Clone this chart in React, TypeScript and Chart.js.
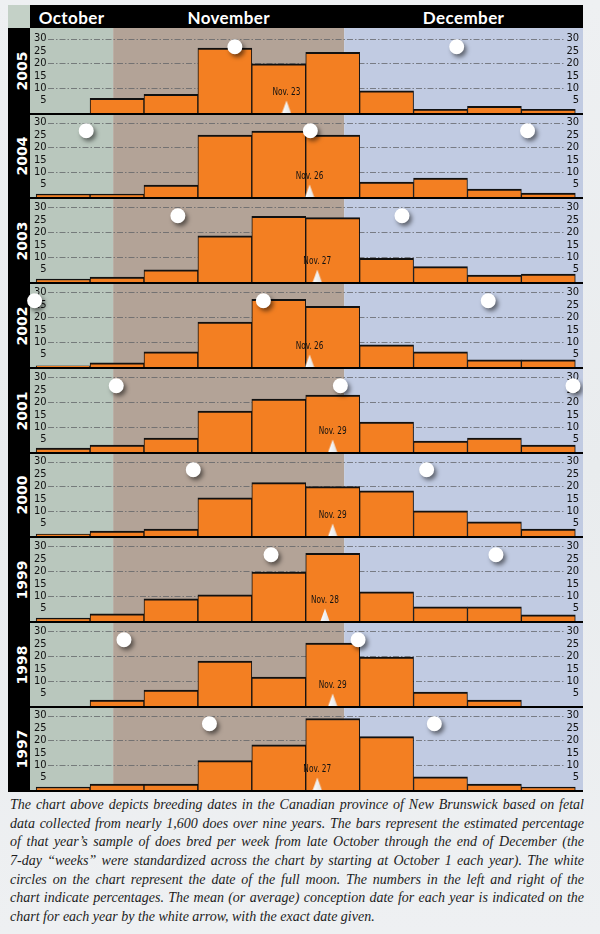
import React, { useEffect, useRef } from "react";
import { Chart, registerables } from "chart.js";

Chart.register(...registerables);

// ---------------- data ----------------
const years = ["2005", "2004", "2003", "2002", "2001", "2000", "1999", "1998", "1997"];
const months = ["October", "November", "December"];
// month boundaries, in days after October 1 (Oct 1, Nov 1, Dec 1, Jan 1)
const monthStarts = [0, 31, 61, 92];
// start of each standardized 7-day week, in days after October 1
const weekStarts = [21, 28, 35, 42, 49, 56, 63, 70, 77, 84];

// estimated % of does bred per week
const pct2005 = [null, 5.9, 7.5, 26.1, 19.8, 24.4, 8.9, 1.5, 2.7, 1.5];
const pct2004 = [1.2, 1.2, 4.8, 24.9, 26.5, 24.9, 6.0, 7.6, 3.2, 1.6];
const pct2003 = [1.2, 2.0, 4.9, 18.6, 26.4, 25.9, 9.5, 6.2, 2.8, 3.2];
const pct2002 = [0.5, 1.7, 6.1, 18.1, 27.2, 24.4, 8.9, 6.1, 2.9, 2.9];
const pct2001 = [1.6, 2.8, 5.6, 16.5, 21.3, 22.9, 12.0, 4.4, 5.6, 2.8];
const pct2000 = [0.8, 2.0, 2.8, 15.4, 21.5, 19.9, 18.2, 10.1, 5.7, 2.8];
const pct1999 = [1.2, 2.9, 8.9, 10.5, 19.7, 27.3, 11.7, 5.7, 5.7, 2.5];
const pct1998 = [null, 2.4, 6.4, 18.1, 11.6, 25.3, 19.7, 5.6, 2.4, null];
const pct1997 = [1.2, 2.4, 2.4, 11.8, 18.2, 28.8, 21.5, 5.3, 2.4, 1.2];

// mean conception date (day of November) per year
const meanNovDay = [23, 26, 27, 26, 29, 29, 28, 29, 27];

// full moons, in days after October 1
const moons2005 = [46.8, 75.6];
const moons2004 = [27.5, 56.6, 84.8];
const moons2003 = [39.4, 68.5];
const moons2002 = [20.8, 50.5, 79.7];
const moons2001 = [31.4, 60.5, 90.7];
const moons2000 = [41.4, 71.7];
const moons1999 = [51.5, 80.7];
const moons1998 = [32.4, 62.8];
const moons1997 = [43.5, 72.7];
const moonLevel = 26.7;

const tickValues = [5, 10, 15, 20, 25, 30];
const gridValues = [10, 20, 30];

const captionLines = [
  "The chart above depicts breeding dates in the Canadian province of New Brunswick based on fetal",
  "data collected from nearly 1,600 does over nine years. The bars represent the estimated percentage",
  "of that year\u2019s sample of does bred per week from late October through the end of December (the",
  "7-day \u201cweeks\u201d were standardized across the chart by starting at October 1 each year). The white",
  "circles on the chart represent the date of the full moon. The numbers in the left and right of the",
  "chart indicate percentages. The mean (or average) conception date for each year is indicated on the",
  "chart for each year by the white arrow, with the exact date given.",
];

const series = [pct2005, pct2004, pct2003, pct2002, pct2001, pct2000, pct1999, pct1998, pct1997];
const moonSeries = [moons2005, moons2004, moons2003, moons2002, moons2001, moons2000, moons1999, moons1998, moons1997];

// ---------------- layout / style ----------------
const X_MIN = 20.2;
const X_MAX = 92;
const PLOT_LEFT = 30;
const PLOT_RIGHT = 583;
const CANVAS_LEFT = 22;
const PAD_LEFT = PLOT_LEFT - CANVAS_LEFT;
const CANVAS_W = PLOT_RIGHT - CANVAS_LEFT;
const PX_PER_PCT = 74.5 / 30;
const SEP = 2;
const baselines = years.map((_, i) => Math.round(112.7 + 84.7 * i));
const tops = years.map((_, i) => (i === 0 ? 28 : baselines[i - 1] + SEP));

const ZONE_COLORS = ["#b9c7bd", "#b3a397", "#c1cbe2"];
const ORANGE = "#f37f22";
const NARROW = "'Liberation Sans Narrow', 'DejaVu Sans Condensed', 'Roboto', sans-serif";

const dayToPage = (d: number) => PLOT_LEFT + ((d - X_MIN) / (X_MAX - X_MIN)) * (PLOT_RIGHT - PLOT_LEFT);

let arrowImg: HTMLCanvasElement | null = null;
function getArrow() {
  if (arrowImg) return arrowImg;
  const c = document.createElement("canvas");
  c.width = 10;
  c.height = 26;
  const g = c.getContext("2d")!;
  const grad = g.createLinearGradient(0, 0, 10, 0);
  grad.addColorStop(0, "#ffffff");
  grad.addColorStop(1, "#e2e2e2");
  g.fillStyle = grad;
  g.beginPath();
  g.moveTo(5, 0.5);
  g.lineTo(9.5, 13);
  g.lineTo(0.5, 13);
  g.closePath();
  g.fill();
  arrowImg = c;
  return c;
}

const panelPlugin = {
  id: "panelDecor",
  beforeDraw(chart: any) {
    const { ctx, chartArea, scales } = chart;
    const x = scales.x;
    const edges = monthStarts.map((d) => x.getPixelForValue(d));
    ctx.save();
    for (let i = 0; i < 3; i++) {
      const a = Math.max(chartArea.left, edges[i]);
      const b = Math.min(chartArea.right, edges[i + 1]);
      if (b > a) {
        ctx.fillStyle = ZONE_COLORS[i];
        ctx.fillRect(a, 0, b - a, chart.height);
      }
    }
    ctx.restore();
  },
  beforeDatasetsDraw(chart: any) {
    const { ctx, chartArea, scales } = chart;
    const y = scales.y;
    ctx.save();
    ctx.strokeStyle = "rgba(95,98,102,0.75)";
    ctx.lineWidth = 1;
    ctx.setLineDash([6, 2, 1.5, 2]);
    gridValues.forEach((v) => {
      const py = Math.round(y.getPixelForValue(v)) + 0.5;
      ctx.beginPath();
      ctx.moveTo(chartArea.left + 18, py);
      ctx.lineTo(chartArea.right - 18, py);
      ctx.stroke();
    });
    ctx.restore();
  },
  beforeDatasetDraw(chart: any, args: any) {
    if (chart.data.datasets[args.index].label === "Full moon") {
      const ctx = chart.ctx;
      ctx.save();
      ctx.shadowColor = "rgba(0,0,0,0.5)";
      ctx.shadowBlur = 4;
      ctx.shadowOffsetX = 2.5;
      ctx.shadowOffsetY = 3;
    }
  },
  afterDatasetDraw(chart: any, args: any) {
    if (chart.data.datasets[args.index].label === "Full moon") {
      chart.ctx.restore();
    }
  },
  afterDatasetsDraw(chart: any) {
    const idx = chart.data.datasets.findIndex((d: any) => d.label === "Mean conception date");
    const meta = chart.getDatasetMeta(idx);
    const pt = meta.data[0];
    if (!pt) return;
    const { ctx } = chart;
    ctx.save();
    ctx.fillStyle = "#111";
    ctx.font = `10px ${NARROW}`;
    ctx.textAlign = "center";
    ctx.textBaseline = "middle";
    ctx.translate(pt.x, pt.y - 21);
    ctx.scale(0.82, 1.1);
    ctx.fillText((chart.data.datasets[idx] as any).dateLabel, 0, 0);
    ctx.restore();
  },
};

const zeroPad = (s: any) => {
  s.width = 0;
  s.paddingTop = 0;
  s.paddingBottom = 0;
  s.paddingLeft = 0;
  s.paddingRight = 0;
};

function Panel({ idx }: { idx: number }) {
  const ref = useRef<HTMLCanvasElement>(null);
  const top = tops[idx];
  const h = baselines[idx] - top;
  useEffect(() => {
    const canvas = ref.current!;
    const yMax = h / PX_PER_PCT;
    const values = series[idx];
    const bars = weekStarts
      .map((w, i) => ({ x: w + 3.5, y: values[i] }))
      .filter((p) => p.y !== null);
    const meanX = monthStarts[1] + meanNovDay[idx] - 0.5;
    const tickFont = { family: NARROW, size: 11 };
    const tickCb = (v: any) => (tickValues.includes(Number(v)) ? String(v) : null);
    const chart = new Chart(canvas, {
      type: "bar",
      data: {
        datasets: [
          {
            type: "bar",
            label: "Does bred (%)",
            data: bars as any,
            backgroundColor: ORANGE,
            borderColor: "#111",
            borderWidth: { top: 2, left: 1, right: 1, bottom: 0 },
            borderSkipped: "start",
            barPercentage: 1,
            categoryPercentage: 1,
            clip: false,
            order: 3,
          } as any,
          {
            type: "scatter",
            label: "Mean conception date",
            dateLabel: `Nov. ${meanNovDay[idx]}`,
            data: [{ x: meanX, y: 0 }],
            pointStyle: getArrow(),
            pointRadius: 6,
            clip: false,
            order: 2,
          } as any,
          {
            type: "scatter",
            label: "Full moon",
            data: moonSeries[idx].map((d) => ({ x: d, y: moonLevel })),
            pointRadius: 7.5,
            pointBackgroundColor: "#ffffff",
            pointBorderColor: "rgba(0,0,0,0)",
            pointBorderWidth: 0,
            clip: false,
            order: 1,
          } as any,
        ],
      },
      options: {
        responsive: false,
        animation: false,
        devicePixelRatio: 1,
        events: [],
        layout: { autoPadding: false, padding: { left: PAD_LEFT, right: 0, top: 0, bottom: 0 } },
        plugins: { legend: { display: false }, tooltip: { enabled: false } },
        scales: {
          x: {
            type: "linear",
            min: X_MIN,
            max: X_MAX,
            display: false,
            offset: false,
            grid: { offset: false },
            afterBuildTicks: (s: any) => {
              s.ticks = weekStarts.map((v) => ({ value: v }));
            },
          },
          y: {
            type: "linear",
            position: "left",
            min: 0,
            max: yMax,
            afterFit: zeroPad,
            grid: { display: false },
            border: { display: false },
            ticks: {
              stepSize: 5,
              includeBounds: false,
              autoSkip: false,
              mirror: true,
              crossAlign: "far",
              padding: 4,
              font: tickFont,
              color: "#111",
              callback: tickCb,
            },
          },
          y2: {
            type: "linear",
            position: "right",
            min: 0,
            max: yMax,
            afterFit: zeroPad,
            grid: { display: false },
            border: { display: false },
            ticks: {
              stepSize: 5,
              includeBounds: false,
              autoSkip: false,
              mirror: true,
              padding: -4,
              font: tickFont,
              color: "#111",
              callback: tickCb,
            },
          },
        } as any,
      },
      plugins: [panelPlugin as any],
    });
    return () => chart.destroy();
  }, []);
  return (
    <canvas
      ref={ref}
      width={CANVAS_W}
      height={h}
      style={{ position: "absolute", left: CANVAS_LEFT, top, width: CANVAS_W, height: h, display: "block" }}
    />
  );
}

export default function App() {
  const monthCenters = months.map((_, i) => {
    const a = Math.max(X_MIN, monthStarts[i]);
    const b = Math.min(X_MAX, monthStarts[i + 1]);
    return dayToPage((a + b) / 2);
  });
  const lastBottom = baselines[baselines.length - 1] + SEP;
  return (
    <div
      style={{
        position: "absolute",
        left: 0,
        top: 0,
        width: 600,
        height: 934,
        overflow: "hidden",
        background: "linear-gradient(180deg, #eef0f2 0%, #e9ecee 50%, #eef0f2 100%)",
      }}
    >
      {/* top-left box */}
      <div style={{ position: "absolute", left: 8, top: 5, width: 22, height: 23, background: "#c4d1c7" }} />
      {/* header */}
      <div style={{ position: "absolute", left: PLOT_LEFT, top: 5, width: PLOT_RIGHT - PLOT_LEFT, height: 23, background: "#000" }} />
      {months.map((m, i) => (
        <div
          key={m}
          style={{
            position: "absolute",
            left: monthCenters[i] - 60,
            width: 120,
            top: 8,
            lineHeight: "20px",
            textAlign: "center",
            color: "#fff",
            fontFamily: "Lato, 'Open Sans', sans-serif",
            fontWeight: 700,
            fontSize: 17,
            letterSpacing: 0.4,
          }}
        >
          {m}
        </div>
      ))}
      {/* year strip */}
      <div style={{ position: "absolute", left: 8, top: 28, width: 22, height: lastBottom - 28, background: "#000" }} />
      {years.map((y, i) => (
        <div
          key={y}
          style={{
            position: "absolute",
            left: 11,
            width: 22,
            top: tops[i],
            height: baselines[i] - tops[i],
          }}
        >
          <div
            style={{
              position: "absolute",
              left: "50%",
              top: "50%",
              transform: "translate(-50%, -50%) rotate(-90deg)",
              color: "#fff",
              fontFamily: "'DejaVu Sans', sans-serif",
              fontWeight: 700,
              fontSize: 14,
              whiteSpace: "nowrap",
              lineHeight: "16px",
            }}
          >
            {y}
          </div>
        </div>
      ))}
      {/* separators */}
      {baselines.map((b, i) => (
        <div key={"s" + i} style={{ position: "absolute", left: PLOT_LEFT, top: b, width: PLOT_RIGHT - PLOT_LEFT, height: SEP, background: "#000" }} />
      ))}
      {years.map((y, i) => (
        <Panel key={"p" + y} idx={i} />
      ))}
      {/* caption */}
      <div
        style={{
          position: "absolute",
          left: 10,
          top: 796,
          width: 574,
          fontFamily: "'Liberation Serif', 'Times New Roman', serif",
          fontStyle: "italic",
          fontSize: 14,
          lineHeight: "18.67px",
          color: "#1c1c1c",
        }}
      >
        {captionLines.map((l, i) => (
          <div
            key={i}
            style={{
              textAlign: i < captionLines.length - 1 ? "justify" : "left",
              textAlignLast: i < captionLines.length - 1 ? "justify" : "left",
              whiteSpace: "normal",
            } as any}
          >
            {l}
          </div>
        ))}
      </div>
    </div>
  );
}
